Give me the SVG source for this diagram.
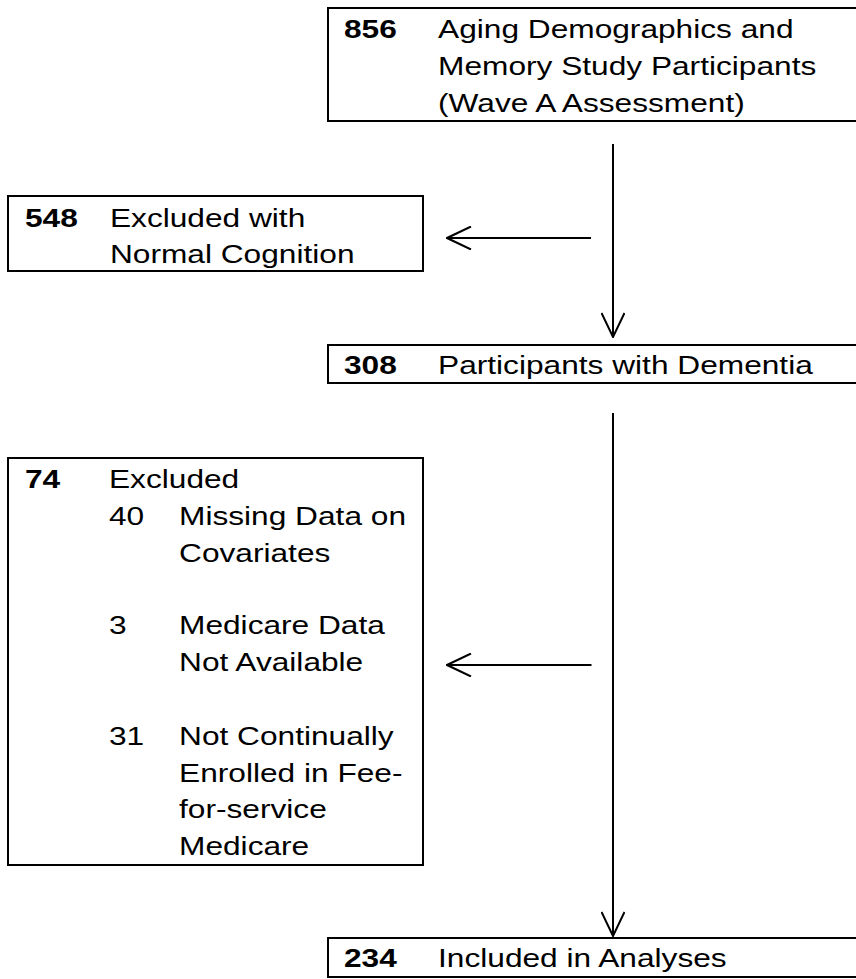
<svg xmlns="http://www.w3.org/2000/svg" width="856" height="979" viewBox="0 0 856 979">
  <style>
    .box { fill: #ffffff; stroke: #000000; stroke-width: 2; }
    .t { font-family: "Liberation Sans", Arial, sans-serif; font-size: 26.5px; fill: #000000; }
    .n { font-weight: bold; }
    .conn { stroke: #000000; stroke-width: 2; fill: none; }
  </style>
  <defs>
    <marker id="arrow" viewBox="0 0 26 24" markerWidth="26" markerHeight="24" refX="25" refY="12" orient="auto" markerUnits="userSpaceOnUse">
      <path d="M1,0.5 L25,12 L1,23.5" fill="none" stroke="#000000" stroke-width="2"/>
    </marker>
  </defs>
  <rect width="856" height="979" fill="#ffffff"/>

  <g id="connectors">
    <line class="conn" x1="613" y1="144" x2="613" y2="337" marker-end="url(#arrow)"/>
    <line class="conn" x1="591" y1="238" x2="447" y2="238" marker-end="url(#arrow)"/>
    <line class="conn" x1="613" y1="413" x2="613" y2="936" marker-end="url(#arrow)"/>
    <line class="conn" x1="591.5" y1="665" x2="447" y2="665" marker-end="url(#arrow)"/>
  </g>

  <g id="node-856">
    <rect class="box" x="328" y="8" width="540" height="113"/>
    <text class="t" transform="translate(344,0) scale(1.195,1)">
      <tspan class="n" x="0" y="38">856</tspan>
      <tspan x="78.7" y="38">Aging Demographics and</tspan>
      <tspan x="78.7" y="75">Memory Study Participants</tspan>
      <tspan x="78.7" y="112">(Wave A Assessment)</tspan>
    </text>
  </g>

  <g id="node-548">
    <rect class="box" x="8" y="196" width="415" height="75"/>
    <text class="t" transform="translate(25,0) scale(1.195,1)">
      <tspan class="n" x="0" y="227">548</tspan>
      <tspan x="71.1" y="227">Excluded with</tspan>
      <tspan x="71.1" y="263">Normal Cognition</tspan>
    </text>
  </g>

  <g id="node-308">
    <rect class="box" x="328" y="345" width="540" height="38"/>
    <text class="t" transform="translate(344,0) scale(1.195,1)">
      <tspan class="n" x="0" y="374">308</tspan>
      <tspan x="78.7" y="374">Participants with Dementia</tspan>
    </text>
  </g>

  <g id="node-74">
    <rect class="box" x="8" y="458" width="415" height="407"/>
    <text class="t" transform="translate(25,0) scale(1.195,1)">
      <tspan class="n" x="0" y="488.5">74</tspan>
      <tspan x="70.3" y="488.5">Excluded</tspan>
      <tspan x="70.3" y="525">40</tspan>
      <tspan x="128.9" y="525">Missing Data on</tspan>
      <tspan x="128.9" y="561.7">Covariates</tspan>
      <tspan x="70.3" y="634.3">3</tspan>
      <tspan x="128.9" y="634.3">Medicare Data</tspan>
      <tspan x="128.9" y="671">Not Available</tspan>
      <tspan x="70.3" y="745">31</tspan>
      <tspan x="128.9" y="745">Not Continually</tspan>
      <tspan x="128.9" y="781.7">Enrolled in Fee-</tspan>
      <tspan x="128.9" y="818.4">for-service</tspan>
      <tspan x="128.9" y="855">Medicare</tspan>
    </text>
  </g>

  <g id="node-234">
    <rect class="box" x="328" y="938" width="540" height="39"/>
    <text class="t" transform="translate(344,0) scale(1.195,1)">
      <tspan class="n" x="0" y="967">234</tspan>
      <tspan x="78.7" y="967">Included in Analyses</tspan>
    </text>
  </g>
</svg>
